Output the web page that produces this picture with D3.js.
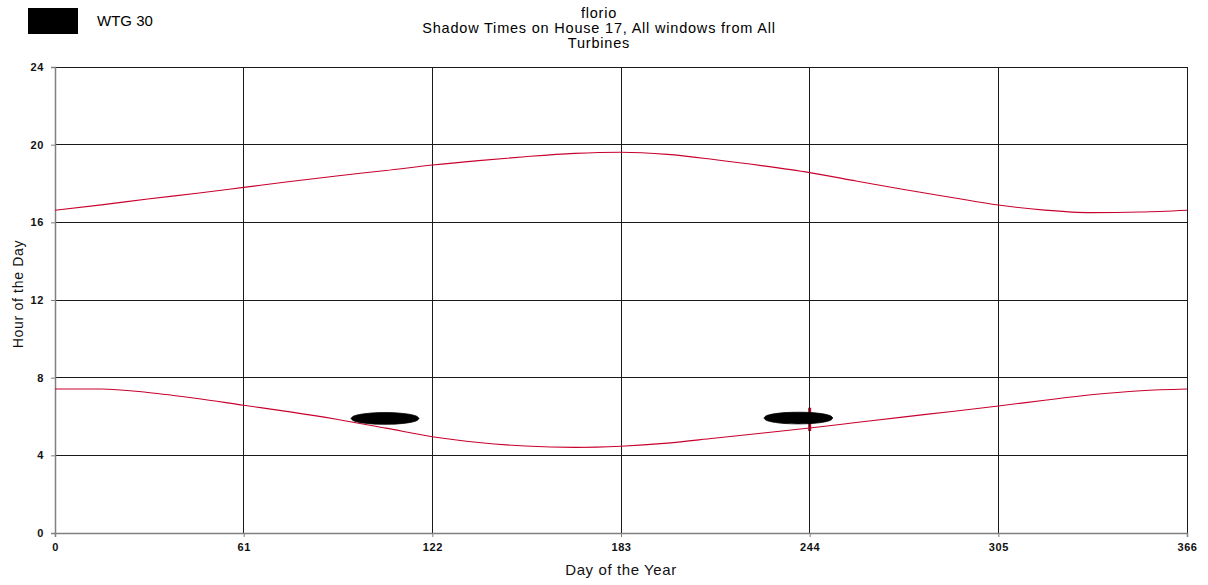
<!DOCTYPE html>
<html>
<head>
<meta charset="utf-8">
<script src="https://cdn.jsdelivr.net/npm/d3@7/dist/d3.min.js"></script>
<style>
  html, body { margin: 0; padding: 0; background: #fff; }
  svg { display: block; font-family: "Liberation Sans", Arial, sans-serif; }
</style>
</head>
<body>
<svg id="chart" width="1208" height="585"></svg>
<script>
// Sun limits over the year (hours of the day)
const days = [0, 15, 30, 46, 61, 76, 91, 107, 122, 137, 152, 168, 183, 198, 213, 229, 244, 259, 274, 290, 305, 320, 335, 351, 366];
const sunset = [16.62, 16.90, 17.20, 17.50, 17.80, 18.10, 18.39, 18.67, 18.95, 19.18, 19.38, 19.55, 19.61, 19.50, 19.24, 18.91, 18.56, 18.13, 17.70, 17.28, 16.89, 16.63, 16.50, 16.53, 16.62];
const sunrise = [7.42, 7.42, 7.24, 6.93, 6.58, 6.24, 5.86, 5.40, 4.96, 4.66, 4.48, 4.41, 4.47, 4.63, 4.88, 5.15, 5.41, 5.69, 5.97, 6.26, 6.54, 6.84, 7.12, 7.33, 7.42];

// Shadow periods from WTG 30 (day, start hour, end hour)
const shadowADays  = [95.7, 96.3, 97.5, 99.5, 102.5, 106.7, 110.9, 113.9, 115.9, 117.1, 117.7];
const shadowAStart = [5.90, 5.80, 5.73, 5.67, 5.62, 5.60, 5.62, 5.67, 5.73, 5.80, 5.90];
const shadowAEnd   = [5.90, 6.00, 6.07, 6.13, 6.18, 6.20, 6.18, 6.13, 6.07, 6.00, 5.90];
const shadowBDays  = [229.2, 229.8, 231.0, 233.0, 236.0, 240.4, 244.7, 247.7, 249.7, 250.9, 251.5];
const shadowBStart = [5.92, 5.82, 5.75, 5.69, 5.64, 5.62, 5.64, 5.69, 5.75, 5.82, 5.92];
const shadowBEnd   = [5.92, 6.02, 6.09, 6.15, 6.20, 6.22, 6.20, 6.15, 6.09, 6.02, 5.92];

// Marker of the current day
const markerDay = 244;
const markerHours = [5.25, 6.45];

const xTicks = [0, 61, 122, 183, 244, 305, 366];
const yTicks = [0, 4, 8, 12, 16, 20, 24];

const titleLines = ["florio", "Shadow Times on House 17, All windows from All", "Turbines"];
const legendLabel = "WTG 30";
const xTitle = "Day of the Year";
const yTitle = "Hour of the Day";

const svg = d3.select("#chart");
const plotLeft = 55, plotRight = 1187, plotTop = 67, plotBottom = 533;

const x = d3.scaleLinear().domain([0, 366]).range([plotLeft, plotRight]);
const y = d3.scaleLinear().domain([0, 24]).range([plotBottom, plotTop]);

// grid
const grid = svg.append("g");
grid.selectAll("line.v").data(xTicks.slice(1)).join("line")
  .attr("x1", d => x(d)).attr("x2", d => x(d))
  .attr("y1", plotTop).attr("y2", plotBottom)
  .attr("stroke", "#1a1a1a").attr("stroke-width", 1).attr("shape-rendering", "crispEdges");
grid.selectAll("line.h").data(yTicks.slice(1)).join("line")
  .attr("x1", plotLeft).attr("x2", plotRight)
  .attr("y1", d => y(d)).attr("y2", d => y(d))
  .attr("stroke", "#1a1a1a").attr("stroke-width", 1).attr("shape-rendering", "crispEdges");

// axes
const xAxis = d3.axisBottom(x).tickValues(xTicks).tickSize(4).tickPadding(6);
const yAxis = d3.axisLeft(y).tickValues(yTicks).tickSize(4).tickPadding(7);

const gx = svg.append("g").attr("transform", `translate(0,${plotBottom})`).call(xAxis);
const gy = svg.append("g").attr("transform", `translate(${plotLeft},0)`).call(yAxis);
[gx, gy].forEach(g => {
  g.select(".domain").attr("stroke", "#808080").attr("stroke-width", 1.5);
  g.selectAll(".tick line").attr("stroke", "#808080");
  g.selectAll(".tick text")
    .attr("fill", "#111").attr("font-size", 11).attr("font-weight", "bold")
    .attr("letter-spacing", 0.6)
    .attr("font-family", "'Liberation Sans', Arial, sans-serif");
});

// day marker
svg.append("line")
  .attr("x1", x(markerDay)).attr("x2", x(markerDay))
  .attr("y1", y(markerHours[0])).attr("y2", y(markerHours[1]))
  .attr("stroke", "#d0002a").attr("stroke-width", 3);
svg.append("line")
  .attr("x1", x(markerDay)).attr("x2", x(markerDay))
  .attr("y1", y(markerHours[0]) + 2).attr("y2", y(markerHours[1]) - 2)
  .attr("stroke", "#1a1a1a").attr("stroke-width", 1).attr("shape-rendering", "crispEdges");

// sunrise / sunset lines
const line = d3.line().x(d => x(d[0])).y(d => y(d[1])).curve(d3.curveMonotoneX);
[sunset, sunrise].forEach(series => {
  svg.append("path")
    .datum(days.map((d, i) => [d, series[i]]))
    .attr("d", line)
    .attr("fill", "none")
    .attr("stroke", "#c8002e")
    .attr("stroke-width", 1.1);
});

// shadow periods
const area = d3.area()
  .x(d => x(d[0])).y0(d => y(d[1])).y1(d => y(d[2]))
  .curve(d3.curveCatmullRom.alpha(0.5));
[[shadowADays, shadowAStart, shadowAEnd], [shadowBDays, shadowBStart, shadowBEnd]].forEach(([ds, s, e]) => {
  svg.append("path")
    .datum(ds.map((d, i) => [d, s[i], e[i]]))
    .attr("d", area)
    .attr("fill", "#000")
    .attr("stroke", "#000")
    .attr("stroke-width", 0.8);
});

// title
svg.append("g").selectAll("text").data(titleLines).join("text")
  .attr("x", 599).attr("y", (d, i) => 18 + i * 15)
  .attr("text-anchor", "middle")
  .attr("font-size", 14.5)
  .attr("letter-spacing", 0.8)
  .attr("fill", "#000")
  .text(d => d);

// legend
svg.append("rect").attr("x", 28).attr("y", 8).attr("width", 50).attr("height", 26).attr("fill", "#000");
svg.append("text").attr("x", 97).attr("y", 26).attr("font-size", 15).attr("fill", "#000").text(legendLabel);

// axis titles
svg.append("text").attr("x", 621).attr("y", 575).attr("text-anchor", "middle")
  .attr("font-size", 15).attr("letter-spacing", 0.6).attr("fill", "#111").text(xTitle);
svg.append("text").attr("transform", "translate(23,294) rotate(-90)").attr("text-anchor", "middle")
  .attr("font-size", 14).attr("letter-spacing", 0.7).attr("fill", "#111").text(yTitle);
</script>
</body>
</html>
